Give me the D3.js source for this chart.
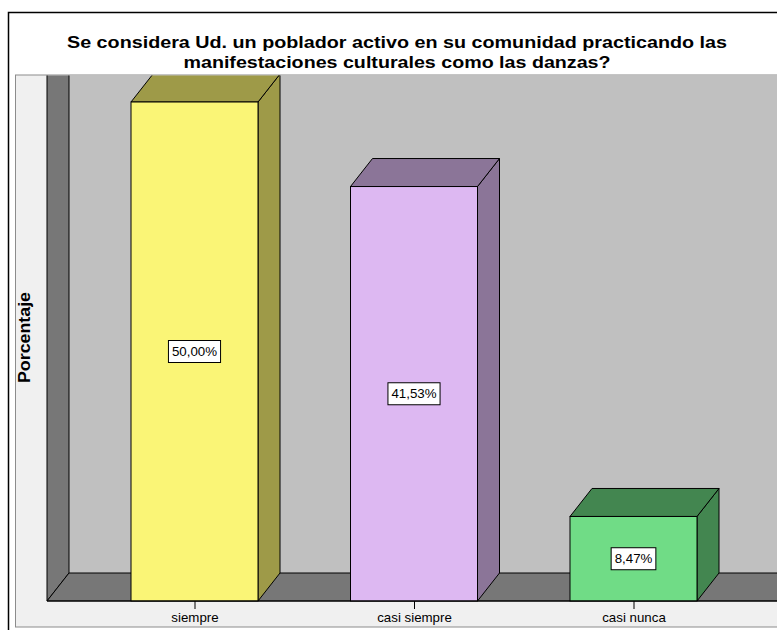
<!DOCTYPE html>
<html>
<head>
<meta charset="utf-8">
<script src="https://cdn.jsdelivr.net/npm/d3@7"></script>
<style>
  html, body { margin: 0; padding: 0; background: #fff; }
  svg { display: block; }
  text { font-family: "Liberation Sans", Arial, sans-serif; }
</style>
</head>
<body>
<svg id="chart" width="777" height="630"></svg>
<script>
// ---- data ----
const categories = ["siempre", "casi siempre", "casi nunca"];
const values = [50.00, 41.53, 8.47];
const valueLabels = ["50,00%", "41,53%", "8,47%"];
const frontColors = ["#faf576", "#ddb8f2", "#70dc86"];
const sideColors = ["#9e9a48", "#8b7598", "#438650"];
const titleLines = [
  "Se considera Ud. un poblador activo en su comunidad practicando las",
  "manifestaciones culturales como las danzas?"
];
const yAxisTitle = "Porcentaje";

// ---- layout ----
const W = 777, H = 630;
const dx = 22, dy = 28;            // 3D depth offset
const floorY = 601;                // front floor edge (value 0)
const leftFront = 47;              // front-left of plot
const panelTop = 75;
const barW = 127;

const svg = d3.select("#chart");

// outer border
svg.append("rect").attr("x", 8.5).attr("y", 12.5).attr("width", W + 10).attr("height", H + 10)
  .attr("fill", "#fff").attr("stroke", "#000").attr("stroke-width", 1.5);

// title
titleLines.forEach((t, i) => {
  svg.append("text")
    .attr("x", 397).attr("y", 47.5 + i * 20)
    .attr("text-anchor", "middle")
    .attr("font-size", 16.5).attr("font-weight", "bold")
    .attr("textLength", i === 0 ? 660 : 427)
    .attr("lengthAdjust", "spacingAndGlyphs")
    .text(t);
});

// panel
svg.append("rect").attr("x", 15.5).attr("y", panelTop).attr("width", W).attr("height", 627 - panelTop)
  .attr("fill", "#f0f0f0").attr("stroke", "#8c8c8c").attr("stroke-width", 1);

// scales
const x = d3.scalePoint().domain(categories).range([194.5, 633.5]);
const y = d3.scaleLinear().domain([0, 50]).range([floorY, 102]);

// clip
svg.append("clipPath").attr("id", "plotclip").append("rect")
  .attr("x", 16).attr("y", panelTop + 0.5).attr("width", W).attr("height", floorY - panelTop + 1);

const plot = svg.append("g").attr("clip-path", "url(#plotclip)");

// back wall
plot.append("rect").attr("x", leftFront + dx).attr("y", panelTop).attr("width", W).attr("height", floorY - dy - panelTop)
  .attr("fill", "#c0c0c0");
// side wall
plot.append("polygon")
  .attr("points", [[leftFront, panelTop - 50], [leftFront + dx, panelTop - 50], [leftFront + dx, floorY - dy], [leftFront, floorY]].join(" "))
  .attr("fill", "#777777").attr("stroke", "#000").attr("stroke-width", 1);
// floor
plot.append("polygon")
  .attr("points", [[leftFront, floorY], [leftFront + dx, floorY - dy], [W + 20, floorY - dy], [W + 20, floorY]].join(" "))
  .attr("fill", "#777777").attr("stroke", "#000").attr("stroke-width", 1);

// bars
const bars = plot.selectAll("g.bar").data(categories).enter().append("g").attr("class", "bar");
bars.each(function (c, i) {
  const g = d3.select(this);
  const x0 = x(c) - barW / 2, x1 = x(c) + barW / 2;
  const top = y(values[i]), bot = y(0);
  // side
  g.append("polygon")
    .attr("points", [[x1, top], [x1 + dx, top - dy], [x1 + dx, bot - dy], [x1, bot]].join(" "))
    .attr("fill", sideColors[i]).attr("stroke", "#000").attr("stroke-width", 1).attr("stroke-linejoin", "round");
  // top
  g.append("polygon")
    .attr("points", [[x0, top], [x0 + dx, top - dy], [x1 + dx, top - dy], [x1, top]].join(" "))
    .attr("fill", sideColors[i]).attr("stroke", "#000").attr("stroke-width", 1).attr("stroke-linejoin", "round");
  // front
  g.append("rect").attr("x", x0).attr("y", top).attr("width", barW).attr("height", bot - top)
    .attr("fill", frontColors[i]).attr("stroke", "#000").attr("stroke-width", 1);
});

// x axis
const axis = svg.append("g").attr("transform", `translate(0,${floorY})`)
  .call(d3.axisBottom(x).tickSize(8).tickPadding(4));
axis.select(".domain").remove();
axis.selectAll("text").attr("font-size", 13.3).attr("font-family", '"Liberation Sans", Arial, sans-serif').attr("fill", "#000");
axis.selectAll("line").attr("stroke", "#000");
svg.append("line").attr("x1", leftFront).attr("x2", W).attr("y1", floorY).attr("y2", floorY)
  .attr("stroke", "#000").attr("stroke-width", 1.2);

// value labels
categories.forEach((c, i) => {
  const cy = (y(values[i]) + y(0)) / 2;
  const g = svg.append("g");
  const r = g.append("rect").attr("fill", "#fff").attr("stroke", "#000").attr("stroke-width", 1);
  const t = g.append("text").attr("x", x(c)).attr("y", cy).attr("dy", "0.35em")
    .attr("text-anchor", "middle").attr("font-size", 13.3).text(valueLabels[i]);
  const w = t.node().getComputedTextLength() + 7;
  r.attr("x", x(c) - w / 2).attr("y", cy - 11).attr("width", w).attr("height", 22);
});

// y axis title
svg.append("text")
  .attr("transform", `translate(30,337.5) rotate(-90)`)
  .attr("text-anchor", "middle")
  .attr("font-size", 16).attr("font-weight", "bold")
  .attr("textLength", 91).attr("lengthAdjust", "spacingAndGlyphs")
  .text(yAxisTitle);
</script>
</body>
</html>
